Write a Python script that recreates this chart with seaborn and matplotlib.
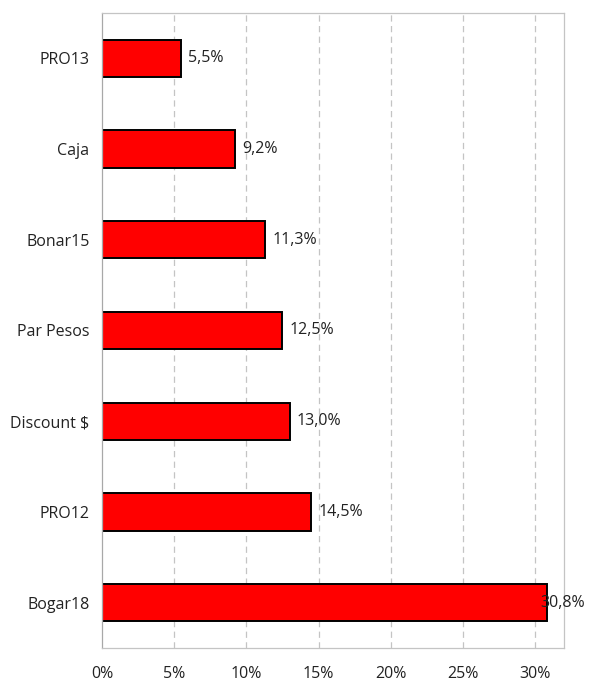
import numpy as np
import pandas as pd
import seaborn as sns
import matplotlib.pyplot as plt
from matplotlib.ticker import FuncFormatter, FixedLocator

# data, top to bottom
names = ["PRO13", "Caja", "Bonar15", "Par Pesos", "Discount $", "PRO12", "Bogar18"]
shares = [0.055, 0.092, 0.113, 0.125, 0.130, 0.145, 0.308]
x_ticks = [0.0, 0.05, 0.10, 0.15, 0.20, 0.25, 0.30]

df = pd.DataFrame({"name": names, "share": shares})

sns.set_style("white")
plt.rcParams["font.family"] = ["Open Sans", "DejaVu Sans"]
TXT = "#222222"
GRID = "#c4c4c4"
FS = 11.5

fig = plt.figure(figsize=(5.92, 6.87), dpi=100)
ax = fig.add_axes([102 / 592, 39 / 687, 462 / 592, 635 / 687])

sns.barplot(data=df, x="share", y="name", order=names, color="#ff0000",
            edgecolor="black", linewidth=1.4, width=0.41, saturation=1, ax=ax)

ax.set_xlim(0, 0.32)
ax.set_ylim(len(names) - 0.5, -0.5)
ax.set_xlabel("")
ax.set_ylabel("")

ax.xaxis.set_major_locator(FixedLocator(x_ticks))
ax.xaxis.set_major_formatter(FuncFormatter(lambda v, _: f"{v * 100:.0f}%"))
ax.tick_params(axis="x", length=5, width=0.8, color=GRID, pad=8,
               labelsize=FS, labelcolor=TXT, direction="out")
for t in x_ticks[1:]:
    ax.axvline(t, color=GRID, lw=0.9, dashes=(5, 3.5), zorder=0)

ax.yaxis.set_minor_locator(FixedLocator(np.arange(-0.5, len(names), 1.0)))
ax.tick_params(axis="y", which="major", length=0, pad=9,
               labelsize=FS, labelcolor=TXT)
ax.tick_params(axis="y", which="minor", length=5, width=0.8, color=GRID,
               direction="out")

for side in ["left", "right", "top", "bottom"]:
    ax.spines[side].set_visible(True)
    ax.spines[side].set_color(GRID)
    ax.spines[side].set_linewidth(0.9)
ax.spines["left"].set_color("#a8a8a8")

labels = ax.bar_label(ax.containers[0],
                      labels=[f"{v * 100:.1f}%".replace(".", ",") for v in shares],
                      padding=5, fontsize=FS, color=TXT)
# the longest bar's label is pulled back over the bar end
labels[-1].xyann = (-4.5, 0)

fig.savefig("out.png", dpi=100)
plt.close()
